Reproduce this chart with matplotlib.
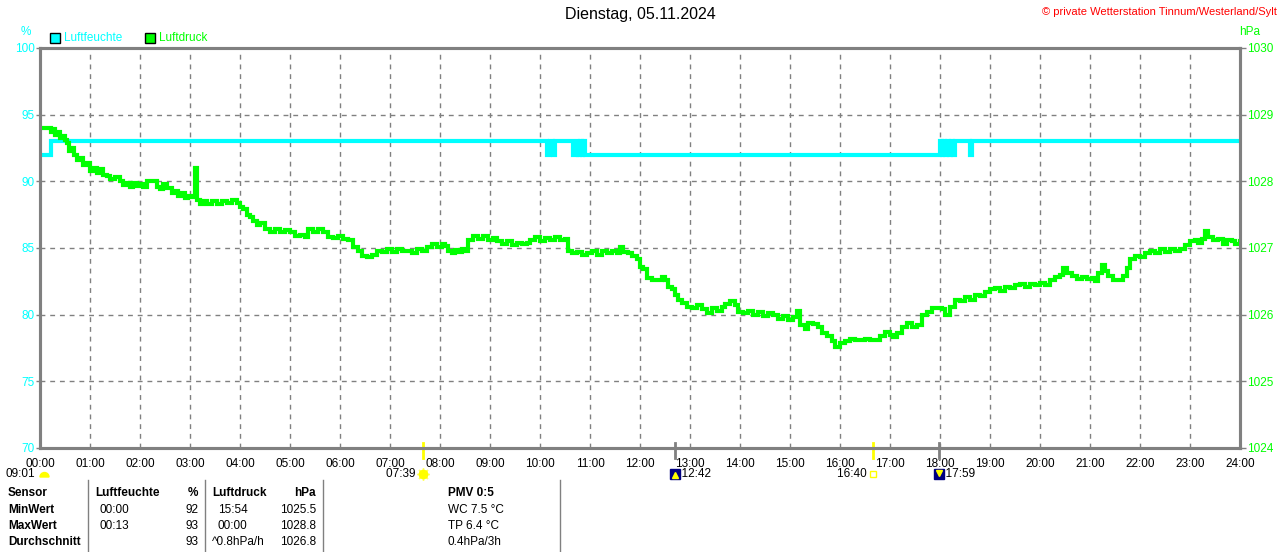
import matplotlib
matplotlib.use("Agg")
import matplotlib.pyplot as plt
import matplotlib.transforms as mtransforms
from matplotlib.patches import Rectangle, Wedge
from matplotlib.lines import Line2D
import numpy as np

plt.rcParams["font.family"] = ["Liberation Sans", "DejaVu Sans"]

# humidity (%), steps in minutes since midnight
hum_min = [0, 13, 608, 612, 615, 618, 640, 644, 646, 648, 650, 652, 654,
           1080, 1082, 1084, 1086, 1088, 1091, 1093, 1096, 1098, 1116, 1119, 1440]
hum_val = [92, 93, 92, 93, 92, 93, 92, 93, 92, 93, 92, 93, 92,
           93, 92, 93, 92, 93, 92, 93, 92, 93, 92, 93, 93]

# air pressure (hPa)
pres_min = [0, 5, 10, 13, 15, 18, 21, 24, 27, 30, 32, 35, 38, 41, 44, 48, 52, 56,
            60, 64, 68, 72, 76, 80, 84, 90, 96, 100, 104, 108, 112, 116, 120, 124,
            128, 134, 140, 144, 148, 152, 158, 162, 166, 170, 174, 178, 182, 186,
            188, 192, 196, 200, 206, 212, 218, 224, 230, 236, 240, 244, 248, 252,
            256, 260, 264, 270, 276, 282, 288, 294, 300, 306, 312, 318, 322, 328,
            334, 340, 346, 352, 358, 364, 370, 376, 382, 386, 392, 398, 404, 410,
            416, 422, 428, 434, 440, 446, 452, 458, 464, 470, 476, 482, 486, 490,
            494, 498, 502, 506, 510, 514, 520, 526, 532, 538, 544, 548, 554, 560,
            566, 572, 578, 584, 588, 594, 600, 606, 612, 618, 624, 630, 634, 638,
            644, 650, 656, 662, 668, 674, 680, 686, 692, 696, 700, 706, 710, 716,
            720, 724, 728, 734, 740, 746, 750, 754, 758, 762, 766, 770, 776, 782,
            788, 794, 800, 806, 812, 818, 822, 828, 834, 838, 844, 850, 856, 862,
            868, 874, 880, 886, 892, 898, 904, 908, 912, 918, 922, 928, 934, 938,
            944, 950, 954, 960, 966, 972, 978, 984, 990, 996, 1002, 1008, 1014,
            1020, 1024, 1028, 1034, 1040, 1046, 1052, 1058, 1064, 1070, 1076, 1082,
            1086, 1092, 1098, 1104, 1110, 1116, 1122, 1128, 1134, 1140, 1146, 1152,
            1158, 1164, 1170, 1176, 1182, 1188, 1194, 1200, 1206, 1212, 1218, 1224,
            1228, 1232, 1238, 1244, 1250, 1256, 1262, 1266, 1270, 1274, 1278, 1282,
            1288, 1294, 1300, 1304, 1308, 1314, 1320, 1326, 1332, 1338, 1344, 1350,
            1356, 1362, 1368, 1374, 1380, 1386, 1390, 1394, 1398, 1402, 1408, 1414,
            1420, 1424, 1430, 1434, 1440]
pres_val = [1028.80, 1028.80, 1028.80, 1028.74, 1028.78, 1028.70, 1028.74, 1028.65,
            1028.68, 1028.62, 1028.58, 1028.45, 1028.50, 1028.40, 1028.32, 1028.35,
            1028.25, 1028.28, 1028.15, 1028.20, 1028.12, 1028.18, 1028.10, 1028.08,
            1028.04, 1028.06, 1028.00, 1027.94, 1027.98, 1027.92, 1027.97, 1027.93,
            1027.96, 1027.92, 1028.00, 1028.01, 1027.92, 1027.88, 1027.96, 1027.90,
            1027.82, 1027.86, 1027.78, 1027.83, 1027.75, 1027.78, 1027.76, 1028.20,
            1027.72, 1027.66, 1027.70, 1027.66, 1027.70, 1027.66, 1027.70, 1027.68,
            1027.72, 1027.68, 1027.62, 1027.58, 1027.50, 1027.46, 1027.40, 1027.35,
            1027.38, 1027.28, 1027.24, 1027.28, 1027.24, 1027.27, 1027.24, 1027.18,
            1027.20, 1027.16, 1027.28, 1027.24, 1027.28, 1027.24, 1027.17, 1027.15,
            1027.18, 1027.14, 1027.12, 1027.02, 1026.96, 1026.88, 1026.86, 1026.90,
            1026.96, 1026.94, 1026.98, 1026.94, 1026.98, 1026.95, 1026.96, 1026.93,
            1026.98, 1026.95, 1027.02, 1027.06, 1027.02, 1027.06, 1027.03, 1026.95,
            1026.92, 1026.97, 1026.94, 1026.98, 1026.95, 1027.12, 1027.18, 1027.14,
            1027.18, 1027.12, 1027.15, 1027.10, 1027.06, 1027.10, 1027.05, 1027.08,
            1027.06, 1027.08, 1027.12, 1027.16, 1027.10, 1027.15, 1027.12, 1027.16,
            1027.12, 1027.14, 1026.96, 1026.92, 1026.94, 1026.90, 1026.92, 1026.96,
            1026.90, 1026.95, 1026.92, 1026.96, 1026.92, 1027.02, 1026.94, 1026.92,
            1026.88, 1026.84, 1026.72, 1026.68, 1026.55, 1026.52, 1026.52, 1026.56,
            1026.52, 1026.42, 1026.38, 1026.30, 1026.22, 1026.18, 1026.12, 1026.10,
            1026.14, 1026.08, 1026.02, 1026.10, 1026.06, 1026.12, 1026.16, 1026.20,
            1026.14, 1026.04, 1026.02, 1026.06, 1026.00, 1026.04, 1025.98, 1026.02,
            1026.00, 1025.94, 1025.98, 1025.92, 1025.96, 1026.06, 1025.84, 1025.78,
            1025.88, 1025.86, 1025.82, 1025.72, 1025.68, 1025.60, 1025.52, 1025.58,
            1025.60, 1025.64, 1025.62, 1025.62, 1025.64, 1025.62, 1025.62, 1025.68,
            1025.74, 1025.70, 1025.66, 1025.72, 1025.82, 1025.88, 1025.82, 1025.84,
            1026.00, 1026.04, 1026.10, 1026.10, 1026.08, 1026.00, 1026.12, 1026.22,
            1026.20, 1026.26, 1026.22, 1026.30, 1026.28, 1026.34, 1026.38, 1026.40,
            1026.36, 1026.42, 1026.40, 1026.44, 1026.46, 1026.42, 1026.46, 1026.44,
            1026.47, 1026.45, 1026.52, 1026.56, 1026.60, 1026.70, 1026.62, 1026.58,
            1026.54, 1026.56, 1026.54, 1026.55, 1026.50, 1026.62, 1026.74, 1026.66,
            1026.58, 1026.52, 1026.52, 1026.58, 1026.70, 1026.84, 1026.88, 1026.86,
            1026.92, 1026.96, 1026.92, 1026.98, 1026.94, 1026.98, 1026.95, 1026.98,
            1027.04, 1027.10, 1027.12, 1027.08, 1027.14, 1027.26, 1027.16, 1027.12,
            1027.14, 1027.06, 1027.12, 1027.10, 1027.06, 1027.10]

hour_labels = ["%02d:00" % h for h in range(25)]

# sun / moon events (hours)
sunrise, sunset = 7 + 39 / 60, 16 + 40 / 60
moonrise, moonset = 12 + 42 / 60, 17 + 59 / 60

table_rows = ["Sensor", "MinWert", "MaxWert", "Durchschnitt"]
hum_time = ["", "00:00", "00:13", ""]
hum_col = ["%", "92", "93", "93"]
pres_time = ["", "15:54", "00:00", "^0.8hPa/h"]
pres_col = ["hPa", "1025.5", "1028.8", "1026.8"]
pmv_lines = ["PMV 0:5", "WC 7.5 °C", "TP 6.4 °C", "0.4hPa/3h"]

CYAN = "#00ffff"
GREEN = "#00ff00"
GRAY = "#808080"
W, H = 1280, 552

fig = plt.figure(figsize=(W / 100, H / 100), dpi=100)
ax = fig.add_axes([40 / W, 1 - 448 / H, 1200 / W, 400 / H])
ax2 = ax.twinx()

ax.plot(np.array(hum_min) / 60, hum_val, color=CYAN, lw=3, drawstyle="steps-post",
        solid_joinstyle="miter")
ax2.plot(np.array(pres_min) / 60, pres_val, color=GREEN, lw=3, drawstyle="steps-post",
         solid_joinstyle="miter")

ax.set_xlim(0, 24)
ax.set_ylim(70, 100)
ax2.set_ylim(1024, 1030)
ax.set_xticks(range(25))
ax.set_xticklabels(hour_labels)
ax.set_yticks(range(70, 101, 5))
ax2.set_yticks(range(1024, 1031))

ax.grid(True, color=GRAY, lw=1, linestyle=(0, (3.5, 3.5)))
ax.set_axisbelow(True)
for a in (ax, ax2):
    for s in a.spines.values():
        s.set_color(GRAY)
        s.set_linewidth(2.2)
ax.tick_params(axis="x", length=0, pad=7, labelsize=8.5, colors="black")
ax.tick_params(axis="y", length=3, width=1, color=GRAY, pad=1, labelsize=8.5,
               labelcolor=CYAN)
ax2.tick_params(axis="y", length=4, width=1, color=GRAY, pad=1, labelsize=8.5,
                labelcolor=GREEN)

# event markers on the time axis
trans = mtransforms.blended_transform_factory(ax.transData, ax.transAxes)
for t, c in [(sunrise, "#ffff00"), (sunset, "#ffff00"), (moonrise, GRAY), (moonset, GRAY)]:
    ax.plot([t, t], [0.0125, -0.025], color=c, lw=2, transform=trans, clip_on=False)
ax.plot(sunrise, -0.065, marker=(8, 2, 0), ms=9, color="#ffff66", mew=1,
        transform=trans, clip_on=False)
ax.plot(sunrise, -0.065, marker="o", ms=6, color="#ffff00", transform=trans, clip_on=False)
ax.plot(sunset, -0.065, marker="s", ms=5, mfc="none", mec="#ffff00", mew=1,
        transform=trans, clip_on=False)
for t in (moonrise, moonset):
    ax.plot(t, -0.065, marker="s", ms=7, color="#000080", transform=trans, clip_on=False)
ax.plot(moonrise, -0.068, marker="^", ms=4, color="#ffff00", transform=trans, clip_on=False)
ax.plot(moonset, -0.062, marker="v", ms=4, color="#ffff00", transform=trans, clip_on=False)
ax.text(sunrise, -0.065, "07:39  ", ha="right", va="center", fontsize=8.5,
        transform=trans)
ax.text(sunset, -0.065, "16:40  ", ha="right", va="center", fontsize=8.5,
        transform=trans)
ax.text(moonrise, -0.065, "  12:42", ha="left", va="center", fontsize=8.5,
        transform=trans)
ax.text(moonset, -0.065, "  17:59", ha="left", va="center", fontsize=8.5,
        transform=trans)

# overlay in pixel coordinates for header, legend and table
ov = fig.add_axes([0, 0, 1, 1], zorder=5)
ov.set_xlim(0, W)
ov.set_ylim(H, 0)
ov.axis("off")

ov.text(640, 15, "Dienstag, 05.11.2024", ha="center", va="center", fontsize=11.5)
ov.text(1277, 12, "© private Wetterstation Tinnum/Westerland/Sylt", ha="right",
        va="center", fontsize=8, color="#ff0000")
ov.text(26, 32, "%", ha="center", va="center", fontsize=8.5, color=CYAN)
ov.text(1250, 32, "hPa", ha="center", va="center", fontsize=8.5, color=GREEN)

ov.add_patch(Rectangle((50, 33), 10, 10, fc=CYAN, ec="black", lw=1))
ov.text(64, 38, "Luftfeuchte", va="center", fontsize=8.5, color=CYAN)
ov.add_patch(Rectangle((145, 33), 10, 10, fc=GREEN, ec="black", lw=1))
ov.text(159, 38, "Luftdruck", va="center", fontsize=8.5, color=GREEN)

ov.text(35, 474, "09:01", ha="right", va="center", fontsize=8.5)
ov.add_patch(Wedge((44.5, 477), 4.5, 180, 360, fc="#ffff00", ec="#ffff00"))

for x in (88, 205, 323, 560):
    ov.add_line(Line2D([x, x], [480, 552], color=GRAY, lw=1))

row_y = [493, 510, 526, 542]
for i, y in enumerate(row_y):
    bold = "bold" if i == 0 else "normal"
    ov.text(8, y, table_rows[i], va="center", fontsize=8.5, fontweight="bold")
    ov.text(100, y, hum_time[i], va="center", fontsize=8.5)
    ov.text(198, y, hum_col[i], ha="right", va="center", fontsize=8.5, fontweight=bold)
    ov.text(218 if i in (1, 2) else 212, y, pres_time[i], va="center", fontsize=8.5)
    ov.text(316, y, pres_col[i], ha="right", va="center", fontsize=8.5, fontweight=bold)
    ov.text(448, y, pmv_lines[i], va="center", fontsize=8.5, fontweight=bold)
ov.text(95, row_y[0], "Luftfeuchte", va="center", fontsize=8.5, fontweight="bold")
ov.text(212, row_y[0], "Luftdruck", va="center", fontsize=8.5, fontweight="bold")

fig.savefig("out.png", dpi=100)
